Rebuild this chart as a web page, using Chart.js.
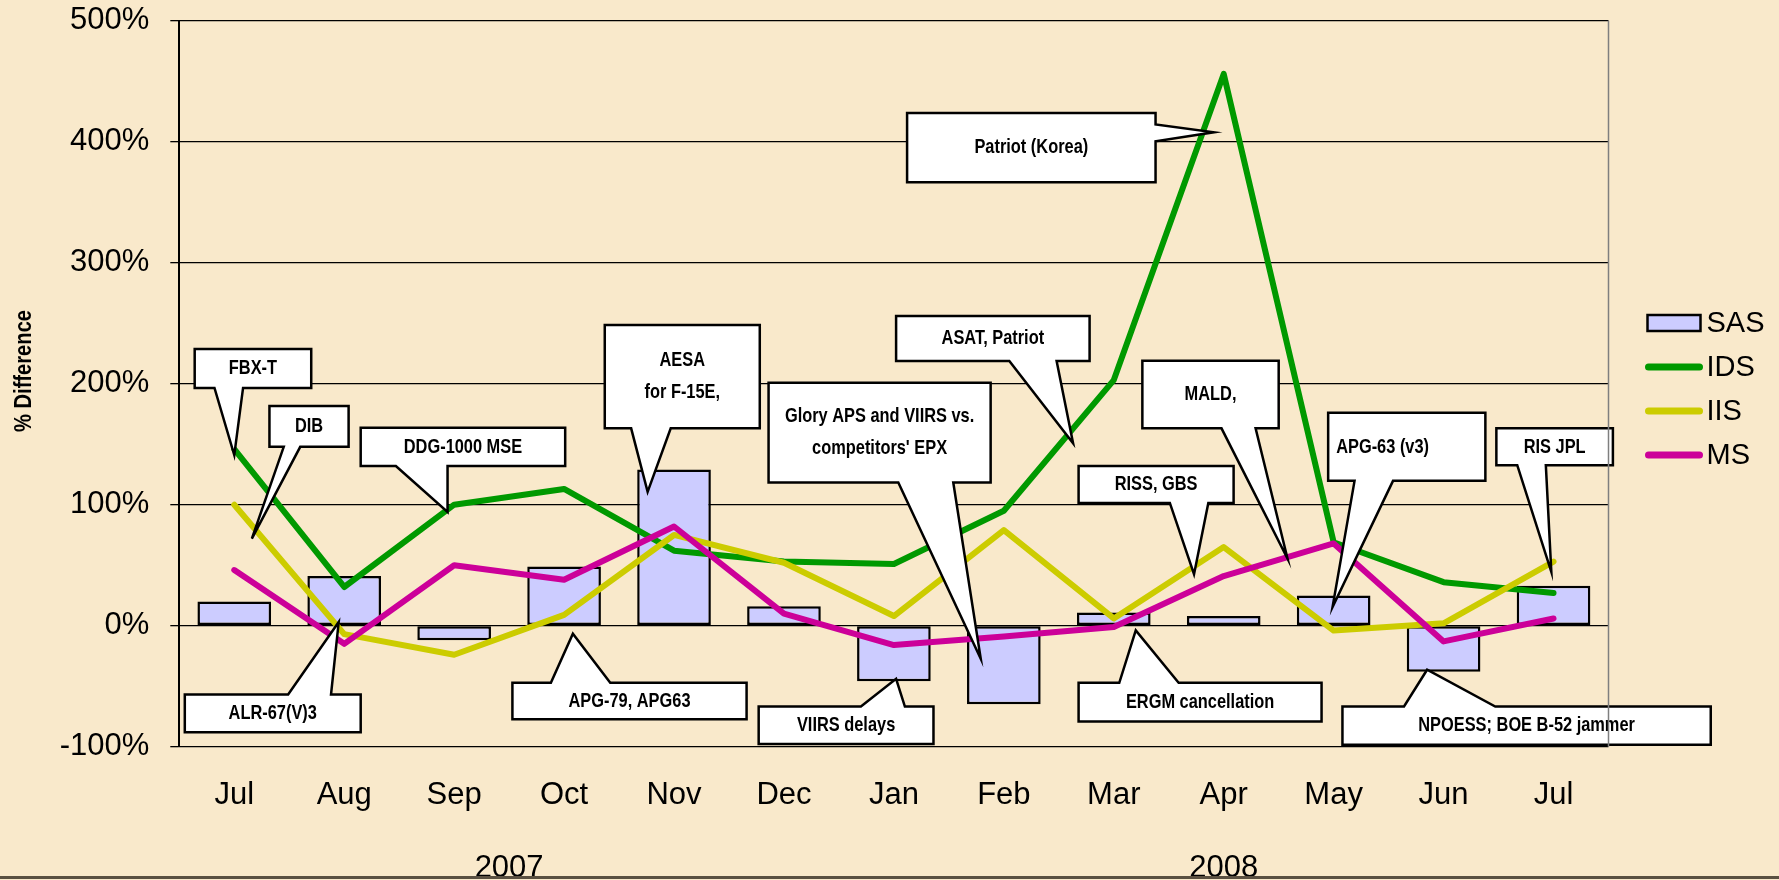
<!DOCTYPE html>
<html>
<head>
<meta charset="utf-8">
<script src="https://cdn.jsdelivr.net/npm/chart.js@4.4.1/dist/chart.umd.min.js"></script>
<style>
  html, body { margin: 0; padding: 0; background: #f9e9cb; }
  #wrap { width: 1779px; height: 880px; position: relative; }
</style>
</head>
<body>
<div id="wrap"><canvas id="chart"></canvas></div>
<script>
// --- data ---
const months = ["Jul", "Aug", "Sep", "Oct", "Nov", "Dec", "Jan", "Feb", "Mar", "Apr", "May", "Jun", "Jul"];
const yearLabels = ["2007", "2008"];
const yearSpans = [[0, 5], [6, 12]];

const sas = [20, 41, -12, 49, 129, 16, -46, -65, 11, 8, 25, -38, 33];
const ids = [146, 32, 100, 113, 62, 53, 51, 95, 203, 456, 69, 36, 27];
const iis = [100, -7, -24, 9, 75, 52, 8, 79, 6, 65, -4, 2, 53];
const ms = [46, -15, 50, 38, 82, 10, -16, -9, -1, 41, 68, -13, 6];

// callouts: box = [left idx, right idx, top %, bottom %], base = where the wedge leaves the box, tip = [idx, %]
const callouts = [
  { text: ["FBX-T"], box: [-0.36, 0.70, 228.7, 196.5], side: "bottom", base: [-0.18, 0.08], tip: [0.0, 141] },
  { text: ["DIB"], box: [0.32, 1.04, 181.5, 147.8], side: "bottom", base: [0.45, 0.60], tip: [0.16, 72] },
  { text: ["DDG-1000 MSE"], box: [1.15, 3.01, 163.6, 131.9], side: "bottom", base: [1.47, 1.94], tip: [1.94, 94] },
  { text: ["AESA", "for F-15E,"], box: [3.37, 4.78, 248.6, 163.1], side: "bottom", base: [3.61, 3.97], tip: [3.76, 110.6] },
  { text: ["Glory APS and VIIRS vs.", "competitors' EPX"], box: [4.86, 6.88, 200.8, 118.4], side: "bottom", base: [6.04, 6.54], tip: [6.79, -27.3] },
  { text: ["ASAT, Patriot"], box: [6.02, 7.78, 256, 218.8], side: "bottom", base: [7.05, 7.48], tip: [7.63, 150.7] },
  { text: ["Patriot (Korea)"], box: [6.12, 8.38, 423.8, 366.4], side: "right", base: [414.2, 400.3], tip: [8.91, 407.8] },
  { text: ["MALD,"], box: [8.26, 9.50, 219, 163.1], side: "bottom", base: [8.98, 9.29], tip: [9.58, 55.5] },
  { text: ["RISS, GBS"], box: [7.68, 9.09, 131.9, 101.5], side: "bottom", base: [8.51, 8.86], tip: [8.73, 42.5] },
  { text: ["APG-63 (v3)"], box: [9.95, 11.38, 176, 119.7], side: "bottom", base: [10.19, 10.54], tip: [9.99, 15.4], align: "left" },
  { text: ["RIS JPL"], box: [11.48, 12.54, 163.1, 132.7], side: "bottom", base: [11.67, 11.93], tip: [11.98, 44.4] },
  { text: ["ALR-67(V)3"], box: [-0.45, 1.15, -56.9, -88.1], side: "top", base: [0.49, 0.88], tip: [0.95, 3] },
  { text: ["APG-79, APG63"], box: [2.53, 4.66, -47.2, -77.3], side: "top", base: [2.88, 3.42], tip: [3.08, -6.6] },
  { text: ["VIIRS delays"], box: [4.77, 6.36, -66.8, -97.7], side: "top", base: [5.70, 6.10], tip: [6.02, -43.9] },
  { text: ["ERGM cancellation"], box: [7.68, 9.89, -47.2, -79.2], side: "top", base: [8.05, 8.59], tip: [8.20, -3.9] },
  { text: ["NPOESS; BOE B-52 jammer"], box: [10.08, 13.43, -66.8, -98.3], side: "top", base: [10.64, 11.47], tip: [10.85, -36.4] }
];

const sansFamily = "'Liberation Sans', Arial, sans-serif";
const tickFont = { family: sansFamily, size: 31 };
const noteFont = "bold 21px " + sansFamily;
const narrow = 0.78; // squeeze to mimic the condensed face

function narrowText(ctx, t, x, y, align, sx) {
  ctx.save();
  ctx.translate(x, y);
  ctx.scale(sx, 1);
  ctx.textAlign = align;
  ctx.fillText(t, 0, 0);
  ctx.restore();
}

function calloutPath(ctx, c, X, Y) {
  const x1 = X(c.box[0]), x2 = X(c.box[1]), y1 = Y(c.box[2]), y2 = Y(c.box[3]);
  const tx = X(c.tip[0]), ty = Y(c.tip[1]);
  ctx.beginPath();
  ctx.moveTo(x1, y1);
  if (c.side === "top") { ctx.lineTo(X(c.base[0]), y1); ctx.lineTo(tx, ty); ctx.lineTo(X(c.base[1]), y1); }
  ctx.lineTo(x2, y1);
  if (c.side === "right") { ctx.lineTo(x2, Y(c.base[0])); ctx.lineTo(tx, ty); ctx.lineTo(x2, Y(c.base[1])); }
  ctx.lineTo(x2, y2);
  if (c.side === "bottom") { ctx.lineTo(X(c.base[1]), y2); ctx.lineTo(tx, ty); ctx.lineTo(X(c.base[0]), y2); }
  ctx.lineTo(x1, y2);
  ctx.closePath();
}

const extras = {
  id: "extras",
  afterDatasetsDraw(chart) {
    const ctx = chart.ctx;
    const xs = chart.scales.x, ys = chart.scales.y;
    const X = v => xs.getPixelForValue(v);
    const Y = v => ys.getPixelForValue(v);
    ctx.save();
    callouts.forEach(c => {
      calloutPath(ctx, c, X, Y);
      ctx.fillStyle = "#ffffff";
      ctx.fill();
      ctx.lineWidth = 2.5;
      ctx.strokeStyle = "#000";
      ctx.lineJoin = "miter";
      ctx.stroke();
      const x1 = X(c.box[0]), x2 = X(c.box[1]), y1 = Y(c.box[2]), y2 = Y(c.box[3]);
      ctx.fillStyle = "#000";
      ctx.font = noteFont;
      ctx.textBaseline = "middle";
      const lh = 32;
      const cy = (y1 + y2) / 2 - (c.text.length - 1) * lh / 2;
      c.text.forEach((t, i) => {
        if (c.align === "left") narrowText(ctx, t, x1 + 8, cy + i * lh, "left", narrow);
        else narrowText(ctx, t, (x1 + x2) / 2, cy + i * lh, "center", narrow);
      });
    });
    ctx.restore();
  },
  afterDraw(chart) {
    const ctx = chart.ctx;
    const a = chart.chartArea;
    const xs = chart.scales.x;
    ctx.save();
    // right border of the plot
    ctx.strokeStyle = "#7f7f7f";
    ctx.lineWidth = 1.5;
    ctx.beginPath();
    ctx.moveTo(a.right, a.top);
    ctx.lineTo(a.right, a.bottom);
    ctx.stroke();

    // years under the months
    ctx.fillStyle = "#000";
    ctx.font = "31px " + sansFamily;
    ctx.textAlign = "center";
    ctx.textBaseline = "middle";
    yearLabels.forEach((y, i) => {
      const mid = (xs.getPixelForValue(yearSpans[i][0]) + xs.getPixelForValue(yearSpans[i][1])) / 2;
      ctx.fillText(y, mid, a.bottom + 122);
    });

    // bottom rule
    ctx.strokeStyle = "#5a5041";
    ctx.lineWidth = 3;
    ctx.beginPath();
    ctx.moveTo(0, 877.5);
    ctx.lineTo(chart.width, 877.5);
    ctx.stroke();

    // axis title
    ctx.save();
    ctx.translate(24, 371);
    ctx.rotate(-Math.PI / 2);
    ctx.font = "bold 24px " + sansFamily;
    narrowText(ctx, "% Difference", 0, 0, "center", 0.84);
    ctx.restore();

    // legend
    const lx = a.right + 39, lw = 53;
    chart.data.datasets.forEach((ds, i) => {
      const ly = 323 + i * 44;
      if (ds.type === "bar") {
        ctx.fillStyle = ds.backgroundColor;
        ctx.fillRect(lx, ly - 8, lw, 16);
        ctx.strokeStyle = "#000";
        ctx.lineWidth = 2.5;
        ctx.strokeRect(lx, ly - 8, lw, 16);
      } else {
        ctx.strokeStyle = ds.borderColor;
        ctx.lineWidth = 7;
        ctx.lineCap = "round";
        ctx.beginPath();
        ctx.moveTo(lx + 1, ly);
        ctx.lineTo(lx + lw - 1, ly);
        ctx.stroke();
      }
      ctx.fillStyle = "#000";
      ctx.textAlign = "left";
      ctx.font = "29px " + sansFamily;
      ctx.fillText(ds.label, lx + lw + 6, ly + 1);
    });
    ctx.restore();
  }
};

const lineStyle = { type: "line", borderWidth: 6, pointRadius: 0, tension: 0, borderCapStyle: "round", borderJoinStyle: "round", fill: false };

new Chart(document.getElementById("chart"), {
  type: "bar",
  data: {
    labels: months,
    datasets: [
      { type: "bar", label: "SAS", data: sas, backgroundColor: "#ccccff", borderColor: "#000", borderWidth: 2.5,
        borderSkipped: false, barPercentage: 0.67, categoryPercentage: 1, order: 4 },
      Object.assign({ label: "IDS", data: ids, borderColor: "#009900", order: 3 }, lineStyle),
      Object.assign({ label: "IIS", data: iis, borderColor: "#cccc00", order: 2 }, lineStyle),
      Object.assign({ label: "MS", data: ms, borderColor: "#cc0099", order: 1 }, lineStyle)
    ]
  },
  options: {
    responsive: true,
    maintainAspectRatio: false,
    animation: false,
    layout: { padding: { top: 20.7, right: 170.5, left: 0, bottom: 0 } },
    plugins: { legend: { display: false }, tooltip: { enabled: false } },
    scales: {
      x: {
        offset: true,
        grid: { display: false, drawTicks: false },
        border: { display: false },
        ticks: { color: "#000", font: tickFont, padding: 30, maxRotation: 0, autoSkip: false },
        afterFit: s => { s.height = 133.3; }
      },
      y: {
        min: -100,
        max: 500,
        grid: { color: "#000", lineWidth: 1.3, tickLength: 9 },
        border: { display: true, color: "#000", width: 2 },
        ticks: { stepSize: 100, color: "#000", font: tickFont, padding: 21, callback: v => v + "%" },
        afterFit: s => { s.width = 179.3; s.paddingTop = 0; s.paddingBottom = 0; }
      }
    }
  },
  plugins: [extras]
});
</script>
</body>
</html>
